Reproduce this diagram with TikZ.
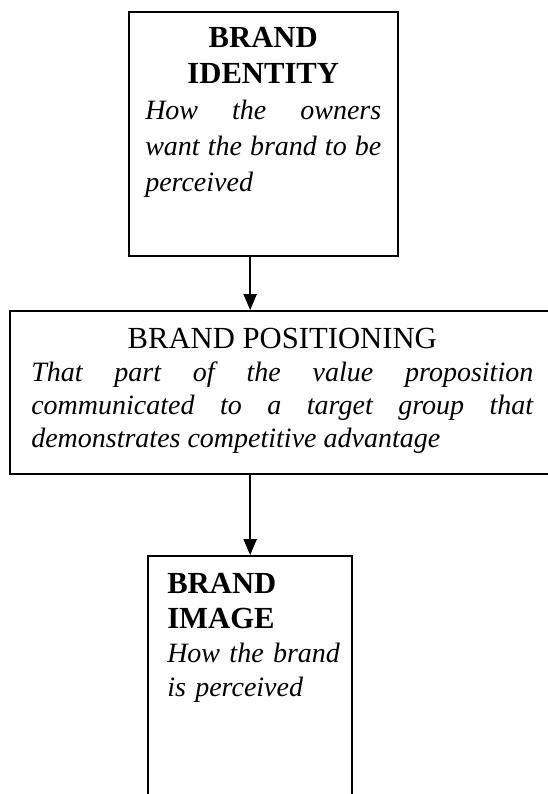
\documentclass[tikz,border=0pt]{standalone}
\usepackage{fontspec}
\setmainfont{Liberation Serif}
\usetikzlibrary{arrows.meta}

\begin{document}
\begin{tikzpicture}[x=0.75pt,y=-0.75pt,
        frame/.style={draw,line width=1.7pt,inner sep=0pt,anchor=north west},
        words/.style={anchor=north west,inner sep=0pt,align=justify},
        arrow/.style={line width=1pt,-{Triangle[width=10pt,length=12pt]}}]
    \useasboundingbox (0,0) rectangle (548,794);
    \clip (0,0) rectangle (548,794);
    % the three boxes
    \node[frame,minimum width=201.75pt,minimum height=183pt] (identity) at (128,11) {};
    \node[frame,minimum width=409.5pt,minimum height=122.25pt] (positioning) at (9,310) {};
    \node[frame,minimum width=153pt,minimum height=210pt] (image) at (147,555) {};
    % texts in the boxes
    \node[words,text width=177pt,font=\fontsize{21}{27}\selectfont] (identitytext) at (145,26.7)
        {{\centering\fontsize{23}{27}\selectfont\bfseries BRAND\\IDENTITY\par}
        \itshape How the owners\linebreak want the brand to be\linebreak perceived};
    \node[words,text width=376.5pt,font=\fontsize{21}{24.75}\selectfont] (positioningtext) at (31,327.7)
        {{\centering\fontsize{23}{24.75}\selectfont BRAND POSITIONING\par}
        \itshape That part of the value proposition\linebreak communicated to a target group that\linebreak demonstrates competitive advantage};
    \node[words,align=left,text width=135pt,font=\fontsize{21}{25.5}\selectfont] (imagetext) at (167,572.7)
        {{\fontsize{23}{26.25}\selectfont\bfseries BRAND\\IMAGE\par}
        \itshape How the brand\\is perceived};
    % arrows
    \draw[arrow] (image.north |- identity.south) -- (image.north |- positioning.north);
    \draw[arrow] (image.north |- positioning.south) -- (image.north);
\end{tikzpicture}
\end{document}
